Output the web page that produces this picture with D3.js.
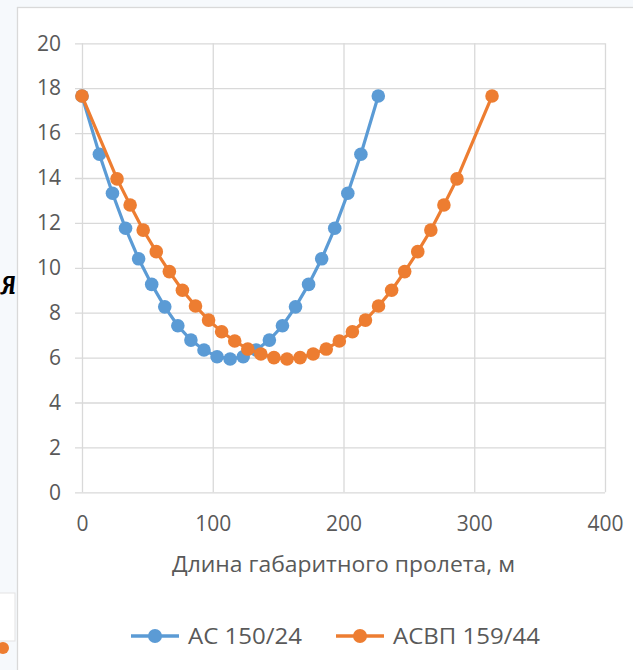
<!DOCTYPE html>
<html>
<head>
<meta charset="utf-8">
<script src="https://cdn.jsdelivr.net/npm/d3@7"></script>
<style>
  html, body { margin: 0; padding: 0; background: #f6f9fc; }
  svg { display: block; }
  text { font-family: "Open Sans", "Noto Sans", sans-serif; fill: #595959; }
</style>
</head>
<body>
<div id="chart"></div>
<script>
// длина габаритного пролета (м) и габарит (м)
const spanAC = [0, 13.3, 23.3, 33.3, 43.3, 53.3, 63.3, 73.3, 83.3, 93.3, 103.3, 113.3,
  123.3, 133.3, 143.3, 153.3, 163.3, 173.3, 183.3, 193.3, 203.3, 213.3, 226.6];
const valAC = [17.65, 15.06, 13.32, 11.76, 10.4, 9.26, 8.26, 7.42, 6.78, 6.34, 6.04, 5.94,
  6.04, 6.34, 6.78, 7.42, 8.26, 9.26, 10.4, 11.76, 13.32, 15.06, 17.65];

const spanASVP = [0, 26.8, 36.8, 46.8, 56.8, 66.8, 76.8, 86.8, 96.8, 106.8, 116.8, 126.8, 136.8,
  146.8, 156.8, 166.8, 176.8, 186.8, 196.8, 206.8, 216.8, 226.8, 236.8, 246.8, 256.8, 266.8,
  276.8, 286.8, 313.6];
const valASVP = [17.65, 13.96, 12.8, 11.68, 10.72, 9.83, 9.0, 8.3, 7.67, 7.15, 6.74, 6.38, 6.16,
  6.0, 5.94, 6.0, 6.16, 6.38, 6.74, 7.15, 7.67, 8.3, 9.0, 9.83, 10.72, 11.68,
  12.8, 13.96, 17.65];

const xTicks = [0, 100, 200, 300, 400];
const yTicks = [0, 2, 4, 6, 8, 10, 12, 14, 16, 18, 20];
const seriesNames = ['АС 150/24', 'АСВП 159/44'];
const colors = ['#5b9bd5', '#ed7d31'];
const xTitle = 'Длина габаритного пролета, м';

const W = 633, H = 670;
const svg = d3.select('#chart').append('svg').attr('width', W).attr('height', H);

// фон за диаграммой (обрывки соседнего слайда)
svg.append('text').attr('x', 0).attr('y', 294)
  .style('font-family', '"DejaVu Serif", serif').style('font-weight', 'bold')
  .style('font-style', 'italic').style('font-size', '36px').style('fill', '#000')
  .attr('textLength', 16).attr('lengthAdjust', 'spacingAndGlyphs')
  .text('я');
svg.append('rect').attr('x', -2).attr('y', 593).attr('width', 17).attr('height', 48)
  .attr('fill', '#fff').attr('stroke', '#e3e3e3');
svg.append('circle').attr('cx', 3).attr('cy', 648).attr('r', 6).attr('fill', colors[1]);

// область диаграммы
svg.append('rect').attr('x', 17.5).attr('y', 7.5).attr('width', W).attr('height', H)
  .attr('fill', '#fff').attr('stroke', '#d9d9d9').attr('stroke-width', 1.3);

const x = d3.scaleLinear().domain([0, 400]).range([82, 605]);
const y = d3.scaleLinear().domain([0, 20]).range([492.3, 43.3]);

// сетка
svg.append('g')
  .call(d3.axisBottom(x).tickValues(xTicks).tickSize(0).tickFormat(''))
  .call(g => g.select('.domain').remove())
  .selectAll('.tick line').attr('y1', y(0)).attr('y2', y(20));
svg.selectAll('.tick line').attr('stroke', '#d9d9d9').attr('stroke-width', 1.3);

const gy = svg.append('g')
  .attr('transform', `translate(${x(0)},0)`)
  .call(d3.axisLeft(y).tickValues(yTicks).tickSize(7).tickPadding(14));
gy.select('.domain').remove();
gy.selectAll('.tick line').attr('x1', -7).attr('x2', x(400) - x(0))
  .attr('stroke', '#d9d9d9').attr('stroke-width', 1.3);
gy.selectAll('.tick text').style('font-size', '21px').style('fill', '#595959')
  .style('font-family', '"Open Sans", sans-serif');

const gx = svg.append('g')
  .attr('transform', `translate(0,${y(0)})`)
  .call(d3.axisBottom(x).tickValues(xTicks).tickSize(0).tickPadding(24));
gx.select('.domain').remove();
gx.selectAll('.tick line').remove();
gx.selectAll('.tick text').style('font-size', '21px').style('fill', '#595959')
  .style('font-family', '"Open Sans", sans-serif');

svg.append('text')
  .attr('x', (x(0) + x(400)) / 2).attr('y', 572)
  .attr('text-anchor', 'middle').style('font-size', '21px')
  .attr('textLength', 343).attr('lengthAdjust', 'spacingAndGlyphs')
  .text(xTitle);

// линии и маркеры
const series = [
  spanAC.map((s, i) => ({ s, v: valAC[i] })),
  spanASVP.map((s, i) => ({ s, v: valASVP[i] }))
];
const line = d3.line().x(d => x(d.s)).y(d => y(d.v));

series.forEach((data, k) => {
  svg.append('path').datum(data)
    .attr('fill', 'none').attr('stroke', colors[k]).attr('stroke-width', 3.2)
    .attr('d', line);
  svg.append('g').selectAll('circle').data(data).join('circle')
    .attr('cx', d => x(d.s)).attr('cy', d => y(d.v)).attr('r', 6.8)
    .attr('fill', colors[k]);
});

// легенда
const legendX = [131, 336];
const legendW = [114, 147];
const legend = svg.append('g').attr('transform', 'translate(0,636)');
seriesNames.forEach((name, k) => {
  const g = legend.append('g').attr('transform', `translate(${legendX[k]},0)`);
  g.append('line').attr('x1', 0).attr('x2', 48).attr('stroke', colors[k]).attr('stroke-width', 3.5);
  g.append('circle').attr('cx', 24).attr('r', 7).attr('fill', colors[k]);
  g.append('text').attr('x', 57).attr('dy', '0.36em').style('font-size', '22px')
    .attr('textLength', legendW[k]).attr('lengthAdjust', 'spacingAndGlyphs')
    .text(name);
});
</script>
</body>
</html>
